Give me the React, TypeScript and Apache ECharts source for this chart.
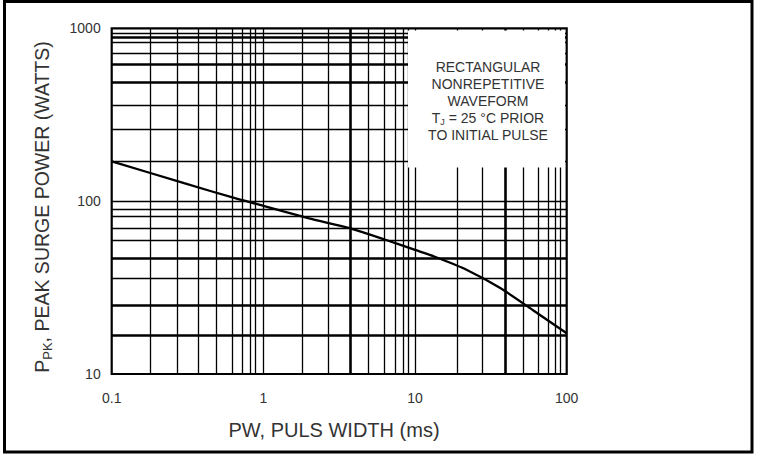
import React, { useEffect, useRef } from "react";
import * as echarts from "echarts";

// Curve: peak surge power vs pulse width
const pulseWidthMs = [0.1, 0.3, 0.65, 1, 2, 3.65, 6.3, 10, 13.5, 22, 36.7, 60, 100];
const peakPowerW = [170, 127, 104, 94, 79.5, 70, 60, 52.2, 47.7, 40, 31.3, 23.4, 17.2];

// Grid lines as drawn on the chart
const xGridLines = [
  0.179, 0.268, 0.367, 0.492, 0.624, 0.73, 0.816, 0.894, 1,
  1.8, 2.69, 3.74, 4.94, 6.25, 7.38, 8.39, 8.96, 10,
  19.0, 27.9, 39.2, 51.7, 65.3, 75.9, 83.9, 90.4,
];
const xThickLines = [3.74, 39.2];
const yGridLines = [
  16.8, 25.1, 35.8, 46.7, 59.6, 69.7, 81.3, 89.8, 100,
  170, 259, 361, 490, 622, 720, 833, 891, 939,
];
const yThickLines = [16.8, 25.1, 46.7, 490, 622, 891];

const noteLines = ["RECTANGULAR", "NONREPETITIVE", "WAVEFORM", "{t|T}{s|J}{t| = 25 °C PRIOR}", "TO INITIAL PULSE"];
const yTitle = "{a|P}{s|PK}{a|, PEAK SURGE POWER (WATTS)}";
const xTitle = "PW, PULS WIDTH (ms)";

const FONT = "'Liberation Sans', Arial, sans-serif";

export default function App() {
  const ref = useRef<HTMLDivElement>(null);
  useEffect(() => {
    if (!ref.current) return;
    const chart = echarts.init(ref.current, undefined, { renderer: "svg" });
    const fmt = (v: number) => String(parseFloat(Number(v).toPrecision(6)));
    const gridLineData = [
      ...xGridLines.map((v) => ({
        xAxis: v,
        lineStyle: { width: xThickLines.includes(v) ? 2.6 : 1.3, color: "#000", type: "solid" },
      })),
      ...yGridLines.map((v) => ({
        yAxis: v,
        lineStyle: { width: yThickLines.includes(v) ? 2.6 : 1.3, color: "#000", type: "solid" },
      })),
    ];
    const option: any = {
      animation: false,
      backgroundColor: "#fff",
      grid: {
        left: 111.7,
        right: 759 - 566.7,
        top: 28.3,
        bottom: 454 - 374,
        show: true,
        borderColor: "#000",
        borderWidth: 2.2,
        backgroundColor: "#fff",
      },
      xAxis: {
        type: "log",
        logBase: 10,
        min: 0.1,
        max: 100,
        axisLine: { show: false },
        axisTick: { show: false },
        splitLine: { show: false },
        axisLabel: {
          formatter: fmt,
          color: "#333",
          fontSize: 14,
          fontFamily: FONT,
          margin: 17,
        },
      },
      yAxis: {
        type: "log",
        logBase: 10,
        min: 10,
        max: 1000,
        axisLine: { show: false },
        axisTick: { show: false },
        splitLine: { show: false },
        axisLabel: {
          formatter: fmt,
          color: "#333",
          fontSize: 14,
          fontFamily: FONT,
          margin: 11,
        },
      },
      series: [
        {
          type: "line",
          data: [],
          silent: true,
          markLine: {
            silent: true,
            symbol: ["none", "none"],
            label: { show: false },
            data: gridLineData,
          },
        },
        {
          type: "line",
          z: 5,
          data: pulseWidthMs.map((x, i) => [x, peakPowerW[i]]),
          showSymbol: false,
          symbol: "none",
          smooth: 0.2,
          lineStyle: { color: "#000", width: 2.3 },
        },
      ],
      graphic: [
        {
          type: "rect",
          z: 20,
          shape: { x: 408, y: 30.5, width: 157, height: 137 },
          style: { fill: "#fff" },
        },
        ...noteLines.map((t, i) => ({
          type: "text",
          z: 21,
          x: 488,
          y: 67 + i * 17,
          style: {
            text: t,
            fill: "#333",
            fontSize: 14,
            fontFamily: FONT,
            align: "center",
            verticalAlign: "middle",
            rich: {
              t: { fontSize: 14, fontFamily: FONT, fill: "#333", lineHeight: 17 },
              s: { fontSize: 9, fontFamily: FONT, fill: "#333", lineHeight: 17, verticalAlign: "bottom" },
            },
          },
        })),
        {
          type: "text",
          z: 21,
          x: 42,
          y: 207,
          rotation: Math.PI / 2,
          style: {
            text: yTitle,
            fill: "#333",
            fontSize: 19.5,
            fontFamily: FONT,
            align: "center",
            verticalAlign: "middle",
            rich: {
              a: { fontSize: 19.5, fontFamily: FONT, fill: "#333", lineHeight: 24 },
              s: { fontSize: 13, fontFamily: FONT, fill: "#333", lineHeight: 24, verticalAlign: "bottom" },
            },
          },
        },
        {
          type: "text",
          z: 21,
          x: 334,
          y: 430,
          style: {
            text: xTitle,
            fill: "#333",
            fontSize: 20,
            fontFamily: FONT,
            align: "center",
            verticalAlign: "middle",
          },
        },
        {
          type: "rect",
          z: 30,
          shape: { x: 4.5, y: 1.5, width: 747.5, height: 450.5 },
          style: { fill: "none", stroke: "#000", lineWidth: 3 },
        },
      ],
    };
    chart.setOption(option);
    return () => chart.dispose();
  }, []);
  return (
    <div
      ref={ref}
      style={{ position: "absolute", left: 0, top: 0, width: 759, height: 454, background: "#fff" }}
    />
  );
}
